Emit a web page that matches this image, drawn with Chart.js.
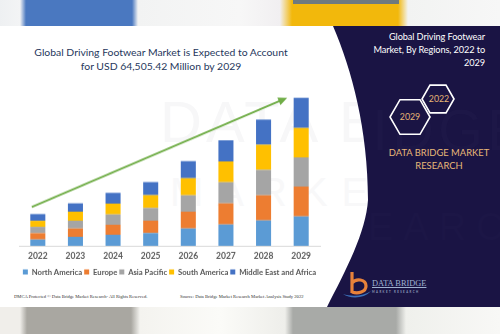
<!DOCTYPE html>
<html>
<head>
<meta charset="utf-8">
<script src="https://cdn.jsdelivr.net/npm/chart.js@4"></script>
<style>
  html, body { margin: 0; padding: 0; }
  body { width: 500px; height: 334px; position: relative; overflow: hidden; background: #ffffff; font-family: Lato, "Open Sans", sans-serif; }
  .strip { position: absolute; left: 0; width: 500px; }
  #topStrip { top: 0; height: 26px; background: linear-gradient(to right, #eef0f2 0px, #f3f4f5 20px, #4a78c0 26px, #4a78c0 132px, #f2f3f3 138px, #f7f7f7 240px, #f1eff1 280px, #f2b80c 292px, #f2b80c 398px, #f2f3f2 408px, #f7f7f7 500px); }
  #topGray { position: absolute; top: 0; left: 293px; width: 106px; height: 4px; background: #6e7a7f; }
  #bottomStrip { top: 307px; height: 27px; background: linear-gradient(to right, #f0eeea 0px, #f0eeea 20px, #a9a7a1 27px, #a9a7a1 131px, #f4f3ef 140px, #fbfbf8 220px, #eeeeea 285px, #a8aaa7 293px, #a8aaa7 396px, #eff0ec 406px, #f8f8f6 500px); }
  #panel { position: absolute; left: 0; top: 0; }
  #title { position: absolute; left: 0; top: 45px; width: 322px; text-align: center; font-size: 10.4px; line-height: 14px; color: #26375c; }
  #chartBox { position: absolute; left: 0; top: 85px; width: 330px; height: 199.9px; }
  .foot { position: absolute; top: 294px; font-family: "Liberation Serif", serif; font-size: 4.6px; color: #333; white-space: nowrap; }
  #panelTitle { position: absolute; right: 15px; top: 30px; text-align: right; color: #ffffff; font-size: 9.2px; line-height: 13px; white-space: nowrap; letter-spacing: -0.1px; }
  #brandText { position: absolute; left: 384px; top: 147px; width: 110px; text-align: center; color: #e9b878; font-size: 9.4px; line-height: 12.5px; }
  #logoText { position: absolute; left: 372px; top: 279px; color: #9fb0d0; font-family: "Liberation Serif", serif; font-size: 8.4px; line-height: 9px; text-decoration: underline; }
  #logoSub { position: absolute; left: 372px; top: 290px; color: #8f9cbc; font-size: 2.8px; letter-spacing: 1.4px; font-weight: bold; }
  .wm { position: absolute; font-family: "Liberation Sans Narrow", "Liberation Sans", sans-serif; white-space: nowrap; }
</style>
</head>
<body>
<div id="topStrip" class="strip"></div>
<div id="topGray"></div>
<div id="bottomStrip" class="strip"></div>

<div class="wm" style="left:160px; top:88px; font-size:58px; color:#f7f7f8; letter-spacing:4px;">DATA BRIDGE</div>
<div class="wm" style="left:170px; top:170px; font-size:40px; color:#f8f8f9; letter-spacing:14px;">MARKET</div>

<svg id="panel" width="500" height="334">
  <path d="M333,26 C352,70 368,130 368,200 C366,232 346,270 327,307 L500,307 L500,26 Z" fill="#1a1444"/>
  <text x="372" y="150" font-family="Liberation Sans Narrow, Liberation Sans, sans-serif" font-size="58" fill="#1d1747" letter-spacing="4">IDGE</text>
  <text x="368" y="240" font-family="Liberation Sans Narrow, Liberation Sans, sans-serif" font-size="38" fill="#1c1646" letter-spacing="10">EARCH</text>
  <polygon points="454,99 446,85.1 430,85.1 422,99 430,112.9 446,112.9" fill="none" stroke="#ffffff" stroke-width="1.6"/>
  <polygon points="430,117 420,99.7 400,99.7 390,117 400,134.3 420,134.3" fill="#1a1444" stroke="#ffffff" stroke-width="1.6"/>
  <text x="439" y="102" text-anchor="middle" font-family="Lato, sans-serif" font-size="8.8" fill="#e6b474">2022</text>
  <text x="410" y="120" text-anchor="middle" font-family="Lato, sans-serif" font-size="8.8" fill="#e6b474">2029</text>
  <path d="M352,272 L352,293 M352,283 C356,278 366,279 366,286 C366,292 358,294 352,292" fill="none" stroke="#e8823a" stroke-width="3.2"/>
  <path d="M343,294 C350,299 364,299 371,291 C364,296 352,297 343,294 Z" fill="#3b6fb8"/>
</svg>

<div id="title">Global Driving Footwear Market is Expected to Account<br>for USD 64,505.42 Million by 2029</div>
<div id="panelTitle">Global Driving Footwear<br>Market, By Regions, 2022 to<br>2029</div>
<div id="brandText">DATA BRIDGE MARKET<br>RESEARCH</div>
<div id="logoText">DATA BRIDGE</div>
<div id="logoSub">MARKET RESEARCH</div>

<div id="chartBox"><canvas id="myChart"></canvas></div>

<div class="foot" style="left:14px;">DMCA Protected © Data Bridge Market Research- All Rights Reserved.</div>
<div class="foot" style="left:180px;">Source: Data Bridge Market Research Market Analysis Study 2022</div>

<script>
var years = ['2022', '2023', '2024', '2025', '2026', '2027', '2028', '2029'];
var regionNames = ['North America', 'Europe', 'Asia Pacific', 'South America', 'Middle East and Africa'];
var regionColors = ['#5b9bd5', '#ed7d31', '#a5a5a5', '#ffc000', '#4472c4'];
var northAmerica = [6.3, 9.0, 11.0, 12.7, 17.3, 21.3, 25.3, 29.3];
var europe = [6.3, 8.3, 10.0, 12.3, 16.7, 21.0, 25.0, 29.7];
var asiaPacific = [6.3, 7.7, 10.3, 12.7, 16.3, 21.0, 25.3, 29.0];
var southAmerica = [6.0, 9.0, 10.7, 12.7, 17.0, 20.7, 25.0, 29.3];
var middleEastAfrica = [6.7, 8.3, 10.7, 13.0, 17.0, 21.0, 25.0, 30.0];
var yMax = 150;

var seriesList = [northAmerica, europe, asiaPacific, southAmerica, middleEastAfrica];

function totalFor(i) {
    var sum = 0;
    seriesList.forEach(function (s) { sum += s[i]; });
    return sum;
}

// green growth arrow over the bars, anchored on the first and last stacks
var trendArrow = {
    id: 'trendArrow',
    afterDatasetsDraw: function (chart) {
        var ctx = chart.ctx;
        var xs = chart.scales.x, ys = chart.scales.y;
        var last = years.length - 1;
        var x0 = xs.getPixelForValue(0) - 6, y0 = ys.getPixelForValue(totalFor(0)) - 7;
        var x1 = xs.getPixelForValue(last) - 14, y1 = ys.getPixelForValue(totalFor(last));
        var ang = Math.atan2(y1 - y0, x1 - x0);
        ctx.save();
        ctx.strokeStyle = '#70ad47';
        ctx.fillStyle = '#70ad47';
        ctx.lineWidth = 2;
        ctx.beginPath();
        ctx.moveTo(x0, y0);
        ctx.lineTo(x1 - 7 * Math.cos(ang), y1 - 7 * Math.sin(ang));
        ctx.stroke();
        ctx.beginPath();
        ctx.moveTo(x1, y1);
        ctx.lineTo(x1 - 9 * Math.cos(ang) + 4 * Math.sin(ang), y1 - 9 * Math.sin(ang) - 4 * Math.cos(ang));
        ctx.lineTo(x1 - 9 * Math.cos(ang) - 4 * Math.sin(ang), y1 - 9 * Math.sin(ang) + 4 * Math.cos(ang));
        ctx.closePath();
        ctx.fill();
        ctx.restore();
    }
};

var canvas = document.getElementById('myChart');
var chart = new Chart(canvas, {
    type: 'bar',
    data: {
        labels: years,
        datasets: seriesList.map(function (s, i) {
            return { label: regionNames[i], data: s, backgroundColor: regionColors[i], borderWidth: 0 };
        })
    },
    options: {
        responsive: true,
        maintainAspectRatio: false,
        animation: false,
        layout: { padding: { top: 10, left: 19, right: 10, bottom: 0 } },
        datasets: { bar: { categoryPercentage: 1, barPercentage: 0.4 } },
        scales: {
            x: {
                stacked: true,
                grid: { display: false, drawTicks: false, tickLength: 0 },
                border: { display: true, color: '#d9d9d9', width: 1 },
                ticks: { color: '#595959', font: { family: 'Lato', size: 8.5, weight: 'bold' }, padding: 5 }
            },
            y: { stacked: true, display: false, min: 0, max: yMax }
        },
        plugins: {
            legend: {
                position: 'bottom',
                labels: { boxWidth: 5, boxHeight: 5, padding: 2, color: '#595959', font: { family: 'Lato', size: 7.7, weight: 'bold' } }
            },
            tooltip: { enabled: false }
        }
    },
    plugins: [trendArrow]
});
</script>
</body>
</html>
